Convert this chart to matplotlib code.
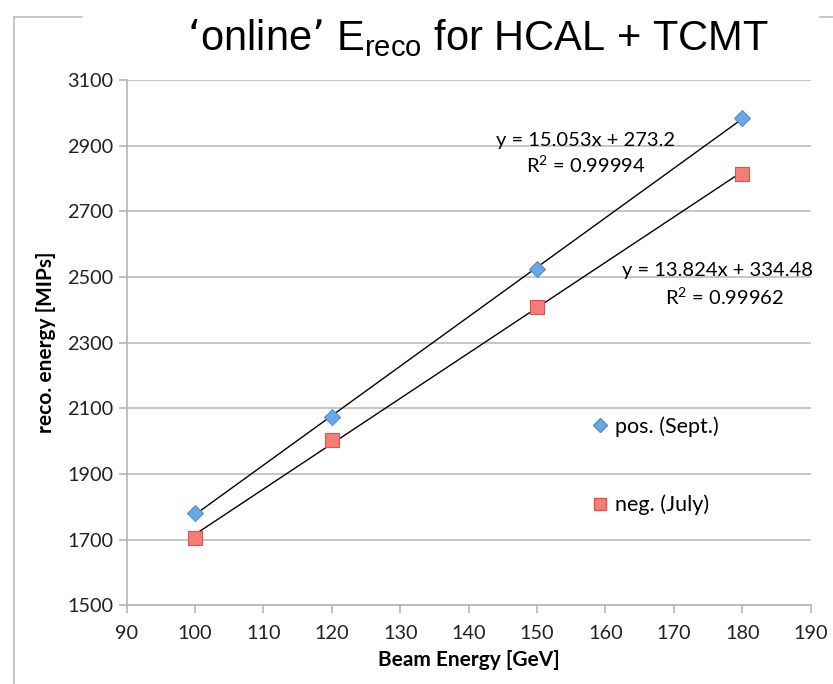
import numpy as np
import matplotlib.pyplot as plt
from matplotlib.lines import Line2D

beam = [100, 120, 150, 180]
pos_sept = [1780, 2075, 2525, 2985]
neg_july = [1705, 2005, 2410, 2815]

x_ticks = list(range(90, 191, 10))
y_ticks = list(range(1500, 3101, 200))

fig = plt.figure(figsize=(8.33, 6.84), dpi=100)
ax = fig.add_axes([0.152, 0.115, 0.821, 0.768])

# fitted lines
p_pos = np.polyfit(beam, pos_sept, 1)
p_neg = np.polyfit(beam, neg_july, 1)
xs = np.array([beam[0], beam[-1]])
ax.plot(xs, np.polyval(p_pos, xs), color='black', lw=1, zorder=3)
ax.plot(xs, np.polyval(p_neg, xs), color='black', lw=1, zorder=3)

ax.scatter(beam, pos_sept, marker='D', s=65, color='#6aa7e6', edgecolors='#4f8fd0',
           linewidths=0.8, zorder=4)
ax.scatter(beam, neg_july, marker='s', s=100, color='#f47e77', edgecolors='#e0524b',
           linewidths=0.8, zorder=4)

ax.set_xlim(90, 190)
ax.set_ylim(1500, 3100)
ax.set_xticks(x_ticks)
ax.set_yticks(y_ticks)
ax.yaxis.grid(True, color='#bdbdbd', lw=1.2)
ax.set_axisbelow(True)
for s in ['top', 'right']:
    ax.spines[s].set_visible(False)
for s in ['left', 'bottom']:
    ax.spines[s].set_color('#b5b5b5')
    ax.spines[s].set_linewidth(1.2)
ax.tick_params(colors='#b5b5b5', length=6, width=1.2, labelcolor='#222222',
               labelsize=14.3)
for lab in ax.get_xticklabels() + ax.get_yticklabels():
    lab.set_family('Lato')
ax.tick_params(axis='x', pad=8)

ax.set_xlabel('Beam Energy [GeV]', fontsize=15, fontweight='bold', family='Lato', labelpad=6)
ax.set_ylabel('reco. energy [MIPs]', fontsize=15, fontweight='bold', family='Lato', labelpad=8)

fs = 14.5
ax.text(157.1, 2917, 'y = 15.053x + 273.2', fontsize=fs, family='Lato', ha='center', va='center')
ax.text(157.2, 2841, 'R$^\\mathregular{2}$ = 0.99994', fontsize=fs, family='Lato', ha='center', va='center')
ax.text(176.4, 2521, 'y = 13.824x + 334.48', fontsize=fs, family='Lato', ha='center', va='center')
ax.text(177.4, 2441, 'R$^\\mathregular{2}$ = 0.99962', fontsize=fs, family='Lato', ha='center', va='center')

handles = [Line2D([], [], marker='D', ls='', ms=7, color='#6aa7e6', mec='#4f8fd0'),
           Line2D([], [], marker='s', ls='', ms=9, color='#f47e77', mec='#e0524b')]
ax.legend(handles, ['pos. (Sept.)', 'neg. (July)'], loc='center left',
          bbox_to_anchor=(0.676, 0.266), frameon=False, labelspacing=2.7,
          borderpad=0, borderaxespad=0, handletextpad=0.2, handlelength=1.0,
          prop={'family': 'Lato', 'size': 15.5})

fig.text(0.574, 0.945, "‘online’ $\\mathregular{E_{reco}}$ for HCAL + TCMT",
         fontsize=30, family='Liberation Sans', ha='center', va='center')

# slide frame lines
frame = dict(color='#bdbdbd', lw=1.2, transform=fig.transFigure)
fig.add_artist(Line2D([14/833, 14/833], [0, 1 - 17/684], **frame))
fig.add_artist(Line2D([14/833, 82/833], [1 - 17/684, 1 - 17/684], **frame))
fig.add_artist(Line2D([820/833, 1], [1 - 17/684, 1 - 17/684], **frame))

fig.savefig('out.png', dpi=100)
